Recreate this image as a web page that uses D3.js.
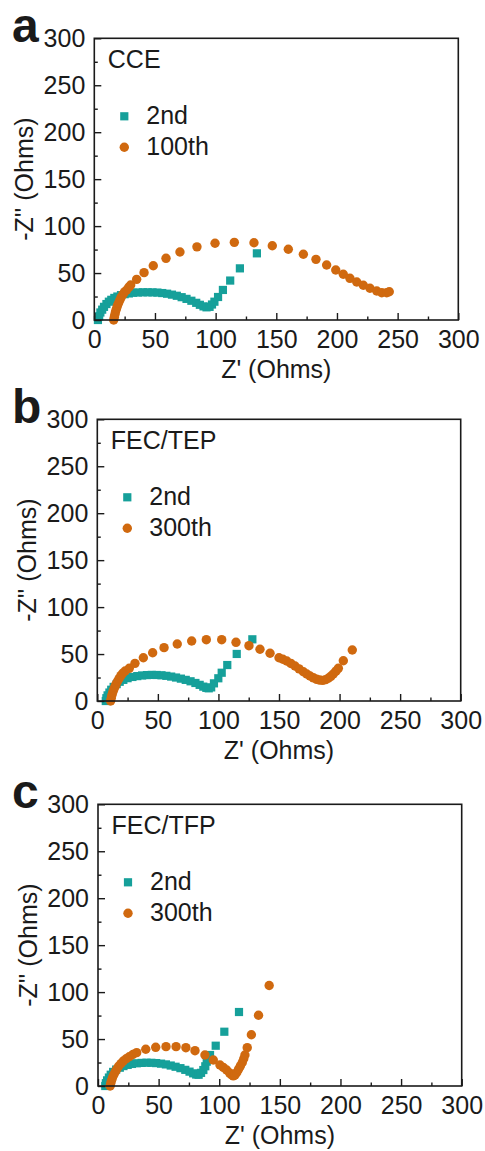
<!DOCTYPE html>
<html>
<head>
<meta charset="utf-8">
<script src="https://cdn.jsdelivr.net/npm/d3@7"></script>
<style>
  html, body { margin: 0; padding: 0; background: #fff; }
  svg { display: block; }
  text { font-family: "Liberation Sans", Arial, sans-serif; fill: #1a1a1a; }
</style>
</head>
<body>
<svg id="chart" width="485" height="1151"></svg>
<script>
// ---------- data ----------
const panelLetters = ["a", "b", "c"];
const panelNames = ["CCE", "FEC/TEP", "FEC/TFP"];
const seriesLabelsA = ["2nd", "100th"];
const seriesLabelsBC = ["2nd", "300th"];
const majorTicks = [0, 50, 100, 150, 200, 250, 300];
const minorTicks = [25, 75, 125, 175, 225, 275];
const xTitle = "Z' (Ohms)";
const yTitle = "-Z'' (Ohms)";

// Panel a: CCE
const cce2nd = [[3,0],[4,4],[5,8],[6.5,11],[8,14],[10,17],[12,19.5],[14,21.5],[16.5,23.5],[19,25],[22,26.5],[25,27.5],[28.5,28.3],[32,29],[36,29.3],[40,29.5],[44,29.5],[48,29.4],[52,29.2],[56,28.7],[60,28],[64,27],[68,25.8],[72,24.3],[76,22.5],[80,20.5],[84,18.3],[87,16.2],[90,14.5],[92.5,13.5],[95,14],[97,16.5],[99,19.5],[102,24.5],[106,32],[112,42],[120,55],[134,71]];
const cce100th = [[16,0],[16.5,3],[17,6],[17.5,9],[18.3,12],[19,15],[20,18],[21,21],[22,24],[23.5,27],[25,30],[26.7,32],[28.5,35],[30,37.3],[34.9,43.3],[41,50.4],[48.6,57.8],[59.1,65.7],[70.6,72.4],[84.6,77.9],[99.5,81.7],[115.4,82.7],[131.6,82.3],[146.7,79.1],[159.9,75.3],[172.3,70],[182.7,64.6],[191.5,58.6],[199,53.2],[205.2,48.7],[210.7,44.4],[216.3,40.5],[221.7,37],[227.2,33.8],[232.8,30.9],[236.9,29.1],[241,29.1],[243.1,30.1]];

// Panel b: FEC/TEP
const tep2nd = [[7,0],[7.5,3],[8.5,6],[10,9],[11.5,12],[13.5,15],[16,18],[18.5,20.5],[21.5,22.5],[25,24.3],[29,25.6],[33,26.5],[37,27.2],[41,27.6],[45,27.8],[49,27.7],[53,27.4],[57,26.8],[61,26],[65,25],[69,23.8],[73,22.5],[77,21],[81,19.2],[84.5,17.2],[87.5,15.3],[90,14],[92,13.5],[94,14.5],[96.3,18.8],[99.9,24.2],[102.7,30.1],[107.3,38.3],[115.1,50.1],[128,65.7]];
const tep300th = [[11,0],[11.5,3],[12,6],[12.7,9],[13.5,12],[14.5,15],[15.5,18],[16.7,21],[18,24],[19.5,27],[21,29.5],[23,32],[26.4,34.8],[31.1,40.1],[38,46.1],[45.7,51.4],[55.1,56.8],[66,60.7],[77.9,63.9],[90,65.3],[102.7,65.3],[114.5,62.5],[125.2,58.9],[134.3,55.1],[142.6,50.8],[150,46.1],[153.2,44.5],[156.4,42.6],[159.8,40],[163.2,37.3],[166.6,34.2],[170.1,31.2],[172.9,28.8],[175.6,26.6],[178.4,24.7],[181.1,23.1],[183.6,22.3],[186.1,22],[188.5,22.8],[190.7,24.2],[192.8,26.3],[194.8,28.8],[197,31.8],[199,34.8],[203.1,42.9],[210.5,54.3]];

// Panel c: FEC/TFP
const tfp2nd = [[6,0],[6.5,3],[7.5,6],[9,9],[10.5,12],[12.5,15],[15,17.5],[18,19.5],[21,21.2],[24.5,22.5],[28,23.5],[32,24.2],[36,24.6],[40,24.8],[44,24.7],[48,24.4],[52,23.8],[56,23],[60,21.8],[64,20.5],[68,19],[72,17.2],[75.5,15.3],[78.5,13.5],[81,12.2],[83,12],[85,14],[86.9,17],[88.5,21],[89.7,25.9],[92.4,33],[97.1,42.9],[104.2,57.8],[116.3,78.8]];
const tfp300th = [[10,0],[10.5,3],[11.2,6],[12,9],[13,12],[14.2,15],[15.5,18],[17,21],[19,24],[20.9,26.6],[23.3,29],[25.8,31.2],[28.8,33.5],[31.9,35.5],[39.4,39.1],[47.6,41.2],[56.1,41.9],[64.4,41.9],[72.5,40.8],[80,37.6],[88.2,33],[95.1,27.7],[100.6,22.4],[103.4,19.7],[106.1,17],[108.5,14],[110,12],[111.6,10.8],[113,11.7],[114.5,14.5],[116,18],[117.5,21.5],[119,25],[120.2,29],[121.2,33],[123.1,40.8],[126.5,54.6],[132.4,75.4],[141.2,107]];

const teal = "#16a09a";
const orange = "#d0690f";

const panels = [
  { letter: panelLetters[0], name: panelNames[0], labels: seriesLabelsA, s1: cce2nd, s2: cce100th,
    left: 94.3, right: 458.3, top: 38.3, bottom: 320 },
  { letter: panelLetters[1], name: panelNames[1], labels: seriesLabelsBC, s1: tep2nd, s2: tep300th,
    left: 97.3, right: 460.7, top: 419.3, bottom: 701 },
  { letter: panelLetters[2], name: panelNames[2], labels: seriesLabelsBC, s1: tfp2nd, s2: tfp300th,
    left: 98, right: 461.7, top: 804.3, bottom: 1086 }
];

const svg = d3.select("#chart");
const FS = 25;
const sq = 8.2, rad = 4.7;

panels.forEach(p => {
  const g = svg.append("g");
  const x = d3.scaleLinear().domain([0, 300]).range([p.left, p.right]);
  const y = d3.scaleLinear().domain([0, 300]).range([p.bottom, p.top]);

  // data (2nd cycle first, later cycle drawn on top)
  const gd = g.append("g");
  gd.selectAll("rect").data(p.s1).join("rect")
    .attr("x", d => x(d[0]) - sq / 2).attr("y", d => y(d[1]) - sq / 2)
    .attr("width", sq).attr("height", sq).attr("fill", teal);
  gd.selectAll("circle").data(p.s2).join("circle")
    .attr("cx", d => x(d[0])).attr("cy", d => y(d[1])).attr("r", rad).attr("fill", orange);

  // axes
  const xAxis = d3.axisBottom(x).tickValues(majorTicks).tickSizeInner(-7).tickSizeOuter(0).tickPadding(10);
  const xMinor = d3.axisBottom(x).tickValues(minorTicks).tickSizeInner(-3.5).tickSizeOuter(0).tickFormat("");
  const yAxis = d3.axisLeft(y).tickValues(majorTicks).tickSizeInner(-7).tickSizeOuter(0).tickPadding(9);
  const yMinor = d3.axisLeft(y).tickValues(minorTicks).tickSizeInner(-3.5).tickSizeOuter(0).tickFormat("");

  [[xAxis, "b"], [xMinor, "b"], [yAxis, "l"], [yMinor, "l"]].forEach(([ax, side]) => {
    const a = g.append("g")
      .attr("transform", side === "b" ? `translate(0,${p.bottom})` : `translate(${p.left},0)`)
      .call(ax);
    a.select(".domain").remove();
    a.selectAll("line").attr("stroke", "#1a1a1a").attr("stroke-width", 1.4);
    a.selectAll("text").attr("font-size", FS).attr("font-family", "'Liberation Sans', Arial, sans-serif").attr("fill", "#1a1a1a");
  });

  // frame
  g.append("rect")
    .attr("x", p.left).attr("y", p.top)
    .attr("width", p.right - p.left).attr("height", p.bottom - p.top)
    .attr("fill", "none").attr("stroke", "#1a1a1a").attr("stroke-width", 1.6);

  // titles
  g.append("text").attr("x", (p.left + p.right) / 2).attr("y", p.bottom + 58)
    .attr("text-anchor", "middle").attr("font-size", FS).text(xTitle);
  const cy = (p.top + p.bottom) / 2;
  g.append("text").attr("transform", `translate(${p.left - 61.5},${cy}) rotate(-90)`)
    .attr("text-anchor", "middle").attr("font-size", FS).text(yTitle);

  // panel letter
  g.append("text").attr("x", 12).attr("y", p.top + 4)
    .attr("font-size", 48).attr("font-weight", "bold").attr("fill", "#000").text(p.letter);

  // panel name
  g.append("text").attr("x", p.left + 13.5).attr("y", p.top + 30)
    .attr("font-size", FS).text(p.name);

  // legend
  const lx = p.left + 30, ly1 = p.top + 78, ly2 = p.top + 109;
  g.append("rect").attr("x", lx - sq / 2).attr("y", ly1 - sq / 2).attr("width", sq).attr("height", sq).attr("fill", teal);
  g.append("circle").attr("cx", lx).attr("cy", ly2).attr("r", rad).attr("fill", orange);
  g.append("text").attr("x", lx + 22).attr("y", ly1 + 8).attr("font-size", FS).text(p.labels[0]);
  g.append("text").attr("x", lx + 22).attr("y", ly2 + 8).attr("font-size", FS).text(p.labels[1]);
});
</script>
</body>
</html>
